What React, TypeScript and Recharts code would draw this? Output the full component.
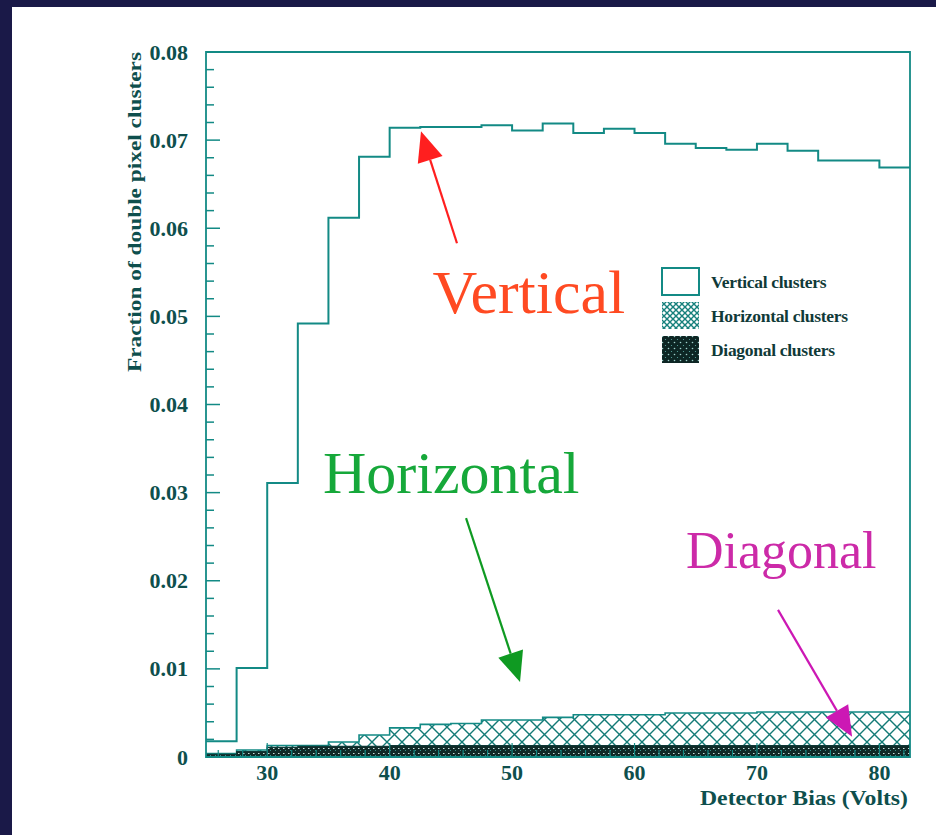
import React from 'react'
import { ComposedChart, Line, Area, XAxis, YAxis, ReferenceArea, ReferenceLine, ReferenceDot, Legend } from 'recharts'

// histogram bin edges (Volts), one more than the number of bins
const binEdges = [25, 27.5, 30, 32.5, 35, 37.5, 40, 42.5, 45, 47.5, 50, 52.5, 55, 57.5, 60, 62.5, 65, 67.5, 70, 72.5, 75, 77.5, 80, 82.5]

const verticalFrac = [0.0018, 0.0101, 0.0311, 0.0492, 0.0612, 0.0681, 0.0714, 0.0715, 0.0715, 0.0717, 0.0711, 0.0719, 0.0708, 0.0713, 0.0708, 0.0696, 0.0691, 0.0689, 0.0696, 0.0688, 0.0677, 0.0677, 0.0669]
const horizontalFrac = [0.0004, 0.0008, 0.0013, 0.0013, 0.0017, 0.0025, 0.0033, 0.0037, 0.0038, 0.0042, 0.0042, 0.0045, 0.0048, 0.0048, 0.0048, 0.005, 0.005, 0.005, 0.0051, 0.0051, 0.0051, 0.0051, 0.0051]
const diagonalFrac = [0.0003, 0.0006, 0.0011, 0.0012, 0.0012, 0.0012, 0.0013, 0.0013, 0.0013, 0.0013, 0.0013, 0.0013, 0.0013, 0.0013, 0.0013, 0.0013, 0.0013, 0.0013, 0.0013, 0.0013, 0.0013, 0.0013, 0.0013]

const xMajorTicks = [30, 40, 50, 60, 70, 80]
const xTicks = [26, 28, 30, 32, 34, 36, 38, 40, 42, 44, 46, 48, 50, 52, 54, 56, 58, 60, 62, 64, 66, 68, 70, 72, 74, 76, 78, 80, 82]
const yMajorTicks = [0, 0.01, 0.02, 0.03, 0.04, 0.05, 0.06, 0.07, 0.08]
const yTicks = Array.from({ length: 41 }, (_, i) => Math.round(i * 2) / 1000)

const legendItems = ['Vertical clusters', 'Horizontal clusters', 'Diagonal clusters']

// annotations in data coordinates: text anchor + arrow tail -> tip
const notes = [
  { text: 'Vertical', color: '#ff4a22', arrow: '#ff1f1f', size: 62, x: 43.5, y: 0.0504, from: [45.5, 0.0583], to: [42.56, 0.071] },
  { text: 'Horizontal', color: '#16a83a', arrow: '#0f9a22', size: 60, x: 34.55, y: 0.03, from: [46.24, 0.0271], to: [50.65, 0.0085] },
  { text: 'Diagonal', color: '#cc2aa8', arrow: '#cc18b4', size: 52, x: 64.2, y: 0.0215, from: [71.72, 0.0167], to: [77.77, 0.0023] },
]

const rows = binEdges.map((x, i) => {
  const k = Math.min(i, verticalFrac.length - 1)
  return { x, vertical: verticalFrac[k], horizontal: horizontalFrac[k], diagonal: diagonalFrac[k] }
})

const LINE = '#138a85'
const TEXT = '#0e4f4d'
const SERIF = "'Liberation Serif', 'Times New Roman', serif"

function YTick(props: any) {
  const { x, y, payload } = props
  const v = payload.value
  const major = yMajorTicks.some((t) => Math.abs(t - v) < 1e-7)
  return (
    <g>
      <line x1={x} x2={x + (major ? 14 : 8)} y1={y} y2={y} stroke={LINE} strokeWidth={1.5} />
      {major && (
        <text x={x - 18} y={y} textAnchor="end" dominantBaseline="central" fill={TEXT} fontFamily={SERIF} fontWeight="bold" fontSize={22}>
          {v === 0 ? '0' : v.toFixed(2)}
        </text>
      )}
    </g>
  )
}

function XTick(props: any) {
  const { x, y, payload } = props
  const major = xMajorTicks.includes(payload.value)
  return (
    <g>
      <line x1={x} x2={x} y1={y} y2={y - (major ? 14 : 7)} stroke={LINE} strokeWidth={1.2} />
      {major && (
        <text x={x} y={y + 23} textAnchor="middle" fill={TEXT} fontFamily={SERIF} fontWeight="bold" fontSize={22}>
          {payload.value}
        </text>
      )}
    </g>
  )
}

const arrowShape = (color: string) => (p: any) => {
  const { x1, y1, x2, y2 } = p
  const dx = x2 - x1
  const dy = y2 - y1
  const len = Math.sqrt(dx * dx + dy * dy)
  const ux = dx / len
  const uy = dy / len
  const head = 30
  const bx = x2 - ux * head
  const by = y2 - uy * head
  const w = 13
  return (
    <g>
      <line x1={x1} y1={y1} x2={bx} y2={by} stroke={color} strokeWidth={2.2} />
      <polygon points={`${x2},${y2} ${bx - uy * w},${by + ux * w} ${bx + uy * w},${by - ux * w}`} fill={color} />
    </g>
  )
}

function LegendBox() {
  return (
    <div style={{ fontFamily: SERIF, fontWeight: 'bold', fontSize: 17.5, color: '#103a38' }}>
      {legendItems.map((name, i) => (
        <div key={name} style={{ display: 'flex', alignItems: 'center', height: 34 }}>
          <svg width={40} height={30} style={{ marginRight: 10 }}>
            <rect x={1} y={1} width={37} height={27} fill={i === 0 ? '#fff' : i === 1 ? 'url(#hatchSmall)' : 'url(#denseSmall)'} stroke={LINE} strokeWidth={i === 0 ? 2 : 0} />
          </svg>
          <span style={{ letterSpacing: -0.3 }}>{name}</span>
        </div>
      ))}
    </div>
  )
}

export default function App() {
  return (
    <div style={{ position: 'absolute', left: 0, top: 0, width: 936, height: 835, background: '#1a1948', overflow: 'hidden' }}>
      <div style={{ position: 'absolute', left: 12, top: 7, width: 924, height: 828, background: '#ffffff' }}>
        <ComposedChart width={924} height={828} data={rows} margin={{ top: 45, right: 26, left: 0, bottom: 0 }}>
          <defs>
            <pattern id="hatch" width={15} height={15} patternUnits="userSpaceOnUse">
              <rect width={15} height={15} fill="#ffffff" />
              <path d="M0,0 L15,15 M15,0 L0,15" stroke="#137a76" strokeWidth={1.4} />
            </pattern>
            <pattern id="dense" width={5} height={5} patternUnits="userSpaceOnUse">
              <rect width={5} height={5} fill="#102a28" />
              <rect x={1} y={1} width={1.5} height={1} fill="#c8dedc" />
              <rect x={3} y={3} width={1} height={1} fill="#3a8f8a" />
            </pattern>
            <pattern id="hatchSmall" width={6} height={6} patternUnits="userSpaceOnUse">
              <rect width={6} height={6} fill="#ffffff" />
              <path d="M0,0 L6,6 M6,0 L0,6" stroke="#16807c" strokeWidth={1.4} />
            </pattern>
            <pattern id="denseSmall" width={6} height={6} patternUnits="userSpaceOnUse">
              <rect width={6} height={6} fill="#0d2624" />
              <circle cx={1.5} cy={1.5} r={0.8} fill="#9fd0cc" />
              <circle cx={4.5} cy={4.5} r={0.6} fill="#5aa9a3" />
            </pattern>
          </defs>
          <XAxis
            dataKey="x"
            type="number"
            domain={[25, 82.5]}
            ticks={xTicks}
            interval={0}
            height={78}
            axisLine={false}
            tickLine={false}
            tickSize={0}
            tickMargin={0}
            tick={<XTick />}
            label={{
              content: () => (
                <text x={896} y={798} textAnchor="end" fill={TEXT} fontFamily={SERIF} fontWeight="bold" fontSize={22} textLength={208} lengthAdjust="spacingAndGlyphs">
                  Detector Bias (Volts)
                </text>
              ),
            }}
          />
          <YAxis
            type="number"
            domain={[0, 0.08]}
            ticks={yTicks}
            interval={0}
            width={194}
            axisLine={false}
            tickLine={false}
            tickSize={0}
            tickMargin={0}
            tick={<YTick />}
            label={{
              content: () => (
                <text
                  x={129}
                  y={45}
                  transform="rotate(-90 129 45)"
                  textAnchor="end"
                  fill={TEXT}
                  fontFamily={SERIF}
                  fontWeight="bold"
                  fontSize={18}
                  textLength={320}
                  lengthAdjust="spacingAndGlyphs"
                >
                  Fraction of double pixel clusters
                </text>
              ),
            }}
          />
          <Area type="stepAfter" dataKey="horizontal" stroke={LINE} strokeWidth={1.6} fill="url(#hatch)" fillOpacity={1} isAnimationActive={false} dot={false} activeDot={false} />
          <Area type="stepAfter" dataKey="diagonal" stroke="#0f3836" strokeWidth={1.2} fill="url(#dense)" fillOpacity={1} isAnimationActive={false} dot={false} activeDot={false} />
          <Line type="stepAfter" dataKey="vertical" stroke={LINE} strokeWidth={2} dot={false} activeDot={false} isAnimationActive={false} />
          <ReferenceArea x1={25} x2={82.5} y1={0} y2={0.08} fill="none" stroke={LINE} strokeWidth={1.8} />
          {notes.map((n) => (
            <ReferenceLine
              key={n.text + '-arrow'}
              segment={[{ x: n.from[0], y: n.from[1] }, { x: n.to[0], y: n.to[1] }]}
              shape={arrowShape(n.arrow)}
            />
          ))}
          {notes.map((n) => (
            <ReferenceDot
              key={n.text}
              x={n.x}
              y={n.y}
              r={0}
              shape={(p: any) => (
                <text x={p.cx} y={p.cy} fill={n.color} fontFamily={SERIF} fontSize={n.size}>
                  {n.text}
                </text>
              )}
            />
          ))}
          <Legend
            layout="vertical"
            align="center"
            verticalAlign="middle"
            wrapperStyle={{ left: 649, top: 258, width: 250 }}
            content={() => <LegendBox />}
          />
        </ComposedChart>
      </div>
    </div>
  )
}
